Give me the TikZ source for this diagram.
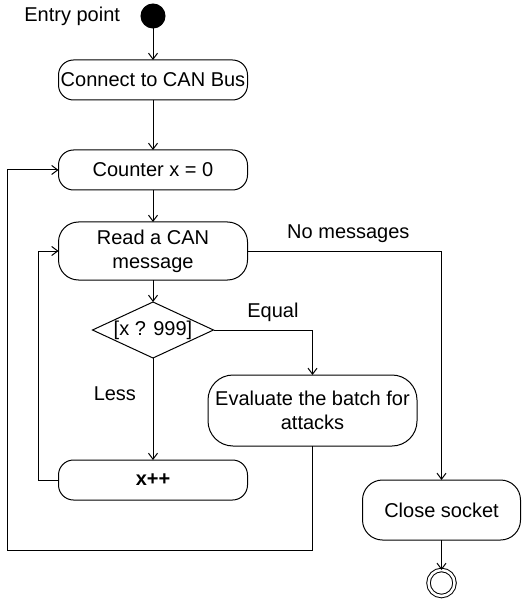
\documentclass[tikz,border=0pt]{standalone}
\usepackage{fontspec}
\setmainfont{Liberation Sans}
\usetikzlibrary{arrows.meta,shapes.geometric,positioning,calc}

\begin{document}
\begin{tikzpicture}[
    x=1pt, y=-1pt,
    every node/.style={font={\fontsize{20}{24}\selectfont}, inner sep=2pt, outer sep=0pt},
    action/.style={draw, rectangle, rounded corners=15pt, minimum width=189pt, minimum height=40pt, align=center},
    bigaction/.style={action, rounded corners=20pt},
    check/.style={draw, diamond, minimum width=121pt, minimum height=56pt, inner sep=0pt},
    startstate/.style={draw, circle, fill=black, minimum size=24pt, inner sep=0pt},
    endstate/.style={draw, circle, double, double distance=2.5pt, minimum size=26pt, inner sep=0pt},
    flow/.style={-{Straight Barb[length=6pt,width=9pt]}},
    line width=1pt
  ]

  \useasboundingbox (0,0) rectangle (523,601);

  \node[startstate] (start) at (153,16) {};
  \node[left=19pt of start] (entry) {Entry point};

  \node[action, below=32pt of start] (connect) {Connect to CAN Bus};
  \node[action, below=50pt of connect] (counter) {Counter x = 0};
  \node[bigaction, minimum height=58pt, below=32pt of counter] (read) {Read a CAN\\message};

  \node[check, below=22pt of read, label=center:{[x ? 999]}] (check) {};

  \coordinate[right=99pt of check] (c1);
  \node[bigaction, minimum width=209pt, minimum height=71pt, rounded corners=25pt, below=45pt of c1] (evaluate)
  {Evaluate the batch for\\attacks};

  \node[action, below=102pt of check] (xpp) {\textbf{x++}};

  \coordinate[right=194pt of read] (c2);
  \node[bigaction, minimum width=158pt, minimum height=60pt, below=229pt of c2] (close) {Close socket};

  \node[endstate, below=30pt of close] (end) {};

  \coordinate[below=104pt of evaluate] (c3);
  \coordinate[left=305pt of c3] (c4);
  \coordinate[left=20pt of xpp] (c5);

  \draw[flow] (start) -- (connect);
  \draw[flow] (connect) -- (counter);
  \draw[flow] (counter) -- (read);
  \draw[flow] (read) -- (check);
  \draw[flow] (check) -- (xpp) node[pos=0.35, left=15pt] {Less};
  \draw[flow] (check) -| (evaluate) node[pos=0.3, above=6pt] {Equal};
  \draw[flow] (read) -| (close) node[pos=0.26, above=6pt] {No messages};
  \draw[flow] (close) -- (end);
  \draw[flow] (xpp) -- (c5) |- (read);
  \draw[flow] (evaluate) -- (c3) -- (c4) |- (counter);
\end{tikzpicture}
\end{document}
